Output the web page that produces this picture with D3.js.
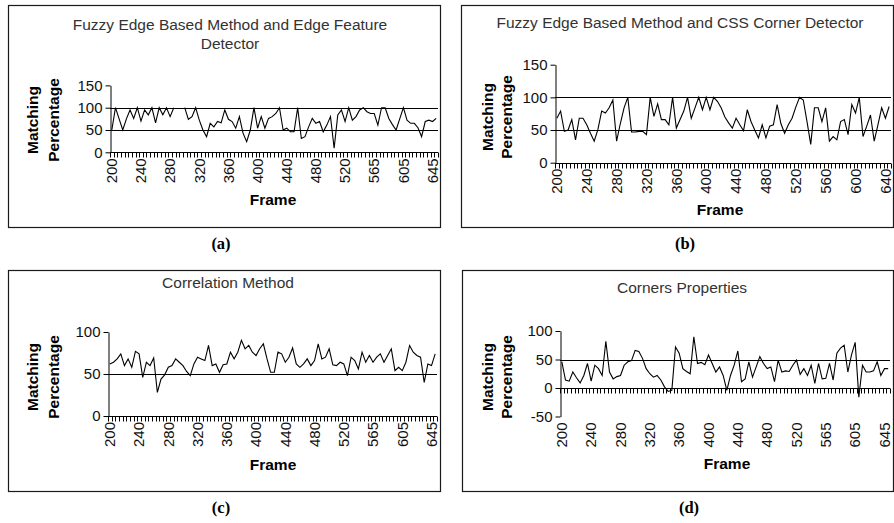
<!DOCTYPE html>
<html>
<head>
<meta charset="utf-8">
<script src="https://cdn.jsdelivr.net/npm/d3@7"></script>
<style>
body { margin: 0; background: #fff; }
svg { display: block; }
text { font-family: "Liberation Sans", Arial, sans-serif; }
</style>
</head>
<body>
<div id="chart"></div>
<script>
// frame numbers on the category axis (a, c, d skip 560)
var framesACD = [200,205,210,215,220,225,230,235,240,245,
    250,255,260,265,270,275,280,285,290,295,
    300,305,310,315,320,325,330,335,340,345,
    350,355,360,365,370,375,380,385,390,395,
    400,405,410,415,420,425,430,435,440,445,
    450,455,460,465,470,475,480,485,490,495,
    500,505,510,515,520,525,530,535,540,545,
    550,555,565,570,575,580,585,590,595,600,
    605,610,615,620,625,630,635,640,645,650];
var framesB = [200,205,210,215,220,225,230,235,240,245,
    250,255,260,265,270,275,280,285,290,295,
    300,305,310,315,320,325,330,335,340,345,
    350,355,360,365,370,375,380,385,390,395,
    400,405,410,415,420,425,430,435,440,445,
    450,455,460,465,470,475,480,485,490,495,
    500,505,510,515,520,525,530,535,540,545,
    550,555,560,565,570,575,580,585,590,595,
    600,605,610,615,620,625,630,635,640,645];

var tickLabelsACD = [200,240,280,320,360,400,440,480,520,565,605,645];
var tickLabelsB = [200,240,280,320,360,400,440,480,520,560,600,640];

// matching percentage per frame
var valuesA = [50,100,75,50,75,95,76,100,70,95,
    84,100,66,100,84,100,80,100,null,null,
    100,74,80,100,72,50,35,65,57,69,
    66,95,74,69,54,80,43,24,50,100,
    54,80,54,76,80,87,100,50,54,46,
    46,100,31,35,57,76,65,69,46,61,
    80,9,84,95,69,100,72,80,95,100,
    91,87,87,61,100,100,76,62,50,75,
    100,72,65,65,55,35,69,72,69,76];
var valuesB = [68,79,48,50,66,35,68,68,58,45,
    33,51,79,76,84,96,33,60,84,100,
    47,47,48,48,43,100,71,90,66,66,
    58,100,53,66,79,100,68,84,100,81,
    100,81,100,94,84,70,61,53,68,58,
    49,81,63,50,38,58,38,56,58,89,
    60,45,58,68,85,100,96,63,28,84,
    84,63,84,33,40,35,63,66,43,89,
    76,100,40,56,73,33,58,84,68,86];
var valuesC = [62,64,68,74,60,68,58,77,74,46,
    64,60,69,28,44,49,58,60,68,64,
    60,53,48,62,70,68,66,84,60,62,
    52,61,62,76,68,76,90,80,84,76,
    72,80,86,68,52,52,76,74,64,70,
    81,62,58,62,68,60,66,86,68,70,
    80,61,60,64,62,48,70,66,56,76,
    64,72,64,70,74,64,72,80,54,58,
    54,64,84,76,72,70,40,62,60,74];
var valuesD = [46,14,12,28,18,9,22,43,12,40,
    34,22,82,28,16,20,22,40,46,48,
    66,64,52,34,25,19,22,14,2,-6,
    -4,72,61,34,29,25,90,43,45,41,
    58,43,28,37,22,-4,22,40,65,11,
    16,46,19,37,55,43,34,37,11,49,
    28,30,29,40,49,24,34,22,40,8,
    43,16,17,43,14,61,70,75,28,58,
    80,-16,40,28,28,30,46,22,34,34];

var W = 894, H = 523;

var svg = d3.select("#chart").append("svg")
    .attr("width", W)
    .attr("height", H);

svg.append("rect").attr("width", W).attr("height", H).attr("fill", "#fff");

var panels = [
    {
        box: [8, 5, 432, 222], caption: "(a)", capX: 221, capY: 243,
        title: ["Fuzzy Edge Based Method and Edge Feature", "Detector"], titleX: 230, titleY: 25,
        left: 110, right: 438, yTop: 85.4, yBot: 152.3, domain: [0, 150], yTicks: [0, 50, 100, 150],
        frames: framesACD, labels: tickLabelsACD, values: valuesA,
        ytX: [33, 54], ytY: 120, frameX: 273, frameY: 200
    },
    {
        box: [461, 5, 432, 222], caption: "(b)", capX: 685, capY: 243,
        title: ["Fuzzy Edge Based Method and CSS Corner Detector"], titleX: 680, titleY: 23,
        left: 555, right: 891, yTop: 64.7, yBot: 162.7, domain: [0, 150], yTicks: [0, 50, 100, 150],
        frames: framesB, labels: tickLabelsB, values: valuesB,
        ytX: [488, 507], ytY: 117, frameX: 720, frameY: 210
    },
    {
        box: [8, 270, 432, 221], caption: "(c)", capX: 221, capY: 507,
        title: ["Correlation Method"], titleX: 228, titleY: 283,
        left: 108, right: 437, yTop: 332, yBot: 416, domain: [0, 100], yTicks: [0, 50, 100],
        frames: framesACD, labels: tickLabelsACD, values: valuesC,
        ytX: [33, 54], ytY: 377, frameX: 273, frameY: 465
    },
    {
        box: [462, 270, 431, 221], caption: "(d)", capX: 689, capY: 507,
        title: ["Corners Properties"], titleX: 682, titleY: 288,
        left: 560, right: 890, yTop: 331, yBot: 416.5, domain: [-50, 100], yTicks: [-50, 0, 50, 100],
        frames: framesACD, labels: tickLabelsACD, values: valuesD,
        ytX: [488, 507], ytY: 377, frameX: 727, frameY: 464
    }
];

panels.forEach(drawPanel);

function drawPanel(p) {
    var g = svg.append("g");

    // chart area border
    g.append("rect")
        .attr("x", p.box[0] + 0.5)
        .attr("y", p.box[1] + 0.5)
        .attr("width", p.box[2])
        .attr("height", p.box[3])
        .attr("fill", "#fff")
        .attr("stroke", "#1a1a1a")
        .attr("stroke-width", 1.2);

    // caption under the box
    svg.append("text")
        .attr("x", p.capX)
        .attr("y", p.capY)
        .attr("dy", "0.35em")
        .attr("text-anchor", "middle")
        .style("font-family", "'Liberation Serif', 'Times New Roman', serif")
        .style("font-weight", "bold")
        .style("font-size", "16.5px")
        .text(p.caption);

    g.selectAll("text.title")
        .data(p.title)
        .enter().append("text")
        .attr("class", "title")
        .attr("x", p.titleX)
        .attr("y", function (d, i) { return p.titleY + i * 19; })
        .attr("dy", "0.35em")
        .attr("text-anchor", "middle")
        .style("font-size", "15.5px")
        .style("fill", "#333")
        .text(function (d) { return d; });

    var n = p.values.length;
    var x = d3.scaleBand()
        .domain(d3.range(n))
        .range([p.left, p.right]);
    var bw = x.bandwidth();
    var cx = function (i) { return x(i) + bw / 2; };

    var y = d3.scaleLinear()
        .domain(p.domain)
        .range([p.yBot, p.yTop]);

    // gridlines at every major tick except the axis and the top
    var grid = p.yTicks.filter(function (t) { return t !== 0 && t !== p.domain[1] && t !== p.domain[0]; });
    g.selectAll("line.grid")
        .data(grid)
        .enter().append("line")
        .attr("class", "grid")
        .attr("x1", p.left)
        .attr("x2", p.right)
        .attr("y1", function (d) { return Math.round(y(d)) + 0.5; })
        .attr("y2", function (d) { return Math.round(y(d)) + 0.5; })
        .attr("stroke", "#000")
        .attr("stroke-width", 1);

    // y axis (plain hyphen for negatives, like the original)
    var yAxis = d3.axisLeft(y)
        .tickValues(p.yTicks)
        .tickFormat(function (d) { return String(d); })
        .tickSize(5)
        .tickSizeOuter(0)
        .tickPadding(3);
    var ya = g.append("g")
        .attr("transform", "translate(" + (Math.round(p.left) + 0.5) + ",0)")
        .call(yAxis);
    ya.selectAll("path, line").attr("stroke", "#000");
    ya.selectAll("text")
        .style("font-size", "15px")
        .style("font-family", "'Liberation Sans', Arial, sans-serif")
        .attr("fill", "#111");

    // category axis sits on zero
    var y0 = Math.round(y(0)) + 0.5;
    g.append("line")
        .attr("x1", p.left)
        .attr("x2", p.right)
        .attr("y1", y0)
        .attr("y2", y0)
        .attr("stroke", "#000");

    var edges = d3.range(n + 1);
    g.selectAll("line.xtick")
        .data(edges)
        .enter().append("line")
        .attr("class", "xtick")
        .attr("x1", function (d) { return Math.round(p.left + d * bw) + 0.5; })
        .attr("x2", function (d) { return Math.round(p.left + d * bw) + 0.5; })
        .attr("y1", y0)
        .attr("y2", y0 + 5)
        .attr("stroke", "#000");

    // rotated frame labels, placed below the plot bottom
    var labelTop = p.yBot + 6;
    g.selectAll("text.xlab")
        .data(p.labels)
        .enter().append("text")
        .attr("class", "xlab")
        .attr("transform", function (d) {
            var i = p.frames.indexOf(d);
            return "translate(" + cx(i) + "," + labelTop + ") rotate(-90)";
        })
        .attr("dy", "0.35em")
        .attr("text-anchor", "end")
        .style("font-size", "15px")
        .style("fill", "#111")
        .text(function (d) { return d; });

    // data line
    var line = d3.line()
        .defined(function (d) { return d != null; })
        .x(function (d, i) { return cx(i); })
        .y(function (d) { return y(d); });

    g.append("path")
        .datum(p.values)
        .attr("d", line)
        .attr("fill", "none")
        .attr("stroke", "#000")
        .attr("stroke-width", 1.1)
        .attr("stroke-linejoin", "miter");

    // axis titles
    g.append("text")
        .attr("x", p.frameX)
        .attr("y", p.frameY)
        .attr("dy", "0.35em")
        .attr("text-anchor", "middle")
        .style("font-size", "15.5px")
        .style("font-weight", "bold")
        .text("Frame");

    g.selectAll("text.ytitle")
        .data(["Matching", "Percentage"])
        .enter().append("text")
        .attr("class", "ytitle")
        .attr("transform", function (d, i) {
            return "translate(" + p.ytX[i] + "," + p.ytY + ") rotate(-90)";
        })
        .attr("dy", "0.35em")
        .attr("text-anchor", "middle")
        .style("font-size", "15.5px")
        .style("font-weight", "bold")
        .text(function (d) { return d; });
}
</script>
</body>
</html>
